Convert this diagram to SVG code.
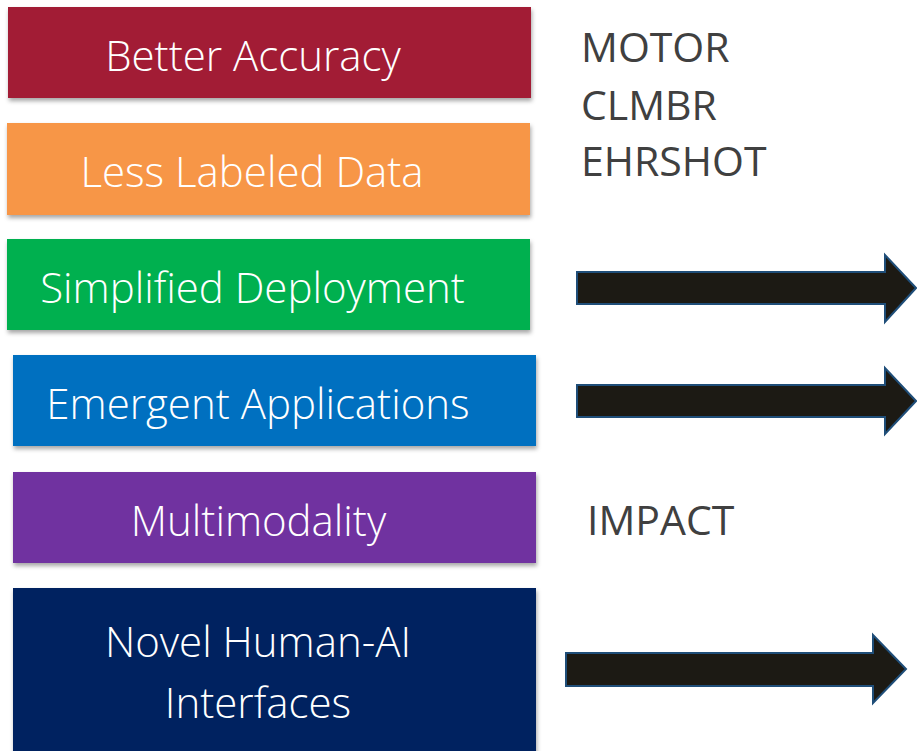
<svg xmlns="http://www.w3.org/2000/svg" width="917" height="751" viewBox="0 0 917 751">
<defs>
<filter id="sh" x="-5%" y="-10%" width="110%" height="130%">
<feDropShadow dx="1" dy="3" stdDeviation="2" flood-color="#000" flood-opacity="0.35"/>
</filter>
</defs>
<style>
.box{filter:url(#sh)}
.bt{font-family:"Open Sans","Noto Sans",sans-serif;font-weight:300;font-size:42px;fill:#fff;text-anchor:middle}
.rt{font-family:"Open Sans","Noto Sans",sans-serif;font-weight:400;font-size:41px;fill:#404040}
.arr{fill:#1c1a14;stroke:#1f4e79;stroke-width:2}
</style>
<rect width="917" height="751" fill="#fff"/>
<g id="n1"><rect class="box" x="8" y="7" width="523" height="91" fill="#a21e36"/><text class="bt" x="253" y="71">Better Accuracy</text></g>
<g id="n2"><rect class="box" x="7" y="123" width="523" height="92" fill="#f79646"/><text class="bt" x="252" y="187">Less Labeled Data</text></g>
<g id="n3"><rect class="box" x="7" y="239" width="523" height="91" fill="#00b050"/><text class="bt" x="252.5" y="303">Simplified Deployment</text></g>
<g id="n4"><rect class="box" x="13" y="355" width="523" height="91" fill="#0070c0"/><text class="bt" x="258" y="419">Emergent Applications</text></g>
<g id="n5"><rect class="box" x="13" y="472" width="523" height="91" fill="#7030a0"/><text class="bt" x="258.5" y="536">Multimodality</text></g>
<g id="n6"><rect class="box" x="13" y="588" width="523" height="170" fill="#002060"/><text class="bt" x="258" y="657">Novel Human-AI</text><text class="bt" x="258" y="718">Interfaces</text></g>
<g id="t1"><text class="rt" x="581" y="62">MOTOR</text><text class="rt" x="581" y="120">CLMBR</text><text class="rt" x="581" y="176">EHRSHOT</text></g>
<g id="t2"><text class="rt" x="587" y="535">IMPACT</text></g>
<g id="connectors">
<path class="arr" d="M577,272 H885 V255 L916,288 L885,322 V304 H577 Z"/>
<path class="arr" d="M577,385 H885 V368 L916,401 L885,434 V417 H577 Z"/>
<path class="arr" d="M566,653 H873 V635 L906,669 L873,703 V686 H566 Z"/>
</g>
</svg>
